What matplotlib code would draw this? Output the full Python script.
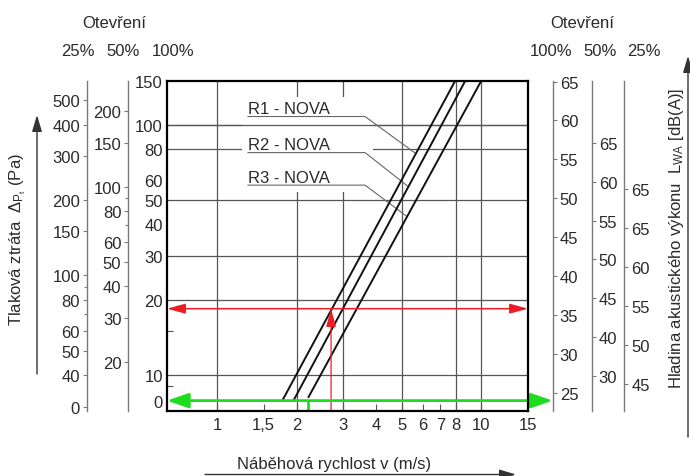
import numpy as np
import matplotlib
matplotlib.use('Agg')
import matplotlib.pyplot as plt
from matplotlib.patches import Rectangle, FancyArrowPatch

plt.rcParams['font.family'] = ['Liberation Sans', 'DejaVu Sans']
plt.rcParams['mathtext.fontset'] = 'custom'
plt.rcParams['mathtext.rm'] = 'Liberation Sans'
plt.rcParams['mathtext.it'] = 'Liberation Sans:italic'
plt.rcParams['mathtext.sf'] = 'Liberation Sans'

TXT = '#2a2a2a'
GRID = '#555555'
SCALE = '#7a7a7a'
RED = '#ee1c25'
GREEN = '#1edc1e'
FS = 12

# ---------------- data ----------------
velocity_ticks = [1, 1.5, 2, 3, 4, 5, 6, 7, 8, 10, 15]
velocity_labels = ['1', '1,5', '2', '3', '4', '5', '6', '7', '8', '10', '15']
velocity_grid = [1, 2, 3, 5, 8, 10]
velocity_range = [0.647, 15]

# pressure loss at 100 % opening (main scale)
pa100_ticks = [7.9, 10, 20, 30, 40, 50, 60, 80, 100, 150]
pa100_labels = ['0', '10', '20', '30', '40', '50', '60', '80', '100', '150']
pa100_grid = [10, 20, 30, 50, 80, 100]
pa100_minor = [9, 15]
pa100_range = [7.18, 150]

# pressure loss at 50 % opening
pa50_factor = 1.77
pa50_ticks = [20, 30, 40, 50, 60, 80, 100, 150, 200]
pa50_labels = ['20', '30', '40', '50', '60', '80', '100', '150', '200']
pa50_minor = [70, 90]

# pressure loss at 25 % opening
pa25_factor = 4.0
pa25_ticks = [29.8, 40, 50, 60, 80, 100, 150, 200, 300, 400, 500]
pa25_labels = ['0', '40', '50', '60', '80', '100', '150', '200', '300', '400', '500']
pa25_minor = [70, 90]

# sound power level scales: dB = 65 + slope*log10(p100 / ref)
db_slope = 32.15
db100_ref = 148.6
db50_ref = 84.7
db25_ref = 38.7
db100_ticks = [25, 30, 35, 40, 45, 50, 55, 60, 65]
db100_labels = ['25', '30', '35', '40', '45', '50', '55', '60', '65']
db50_ticks = [35, 40, 45, 50, 55, 60, 65]
db50_labels = ['30', '40', '45', '50', '55', '60', '65']
db25_ticks = [45, 50, 55, 60, 65, 70]
db25_labels = ['45', '50', '55', '60', '65', '65']

# characteristic lines (velocity m/s, pressure Pa at 100 %)
series_names = ['R1 - NOVA', 'R2 - NOVA', 'R3 - NOVA']
r1_v = [1.76, 7.97]
r1_p = [7.85, 150]
r2_v = [1.94, 8.7]
r2_p = [7.85, 150]
r3_v = [2.21, 10.0]
r3_p = [8.1, 150]
label_underline_p = [107.7, 77.3, 57.3]
label_v_range = [1.31, 3.63]
leader_target_p = [76.6, 56.5, 42.9]

# example reading
red_v = 2.70
red_p = 18.4
green_v = 2.21
green_p = 7.9

# ---------------- figure ----------------
W, H = 690, 477
fig = plt.figure(figsize=(W / 100, H / 100), dpi=100)

def fx(x):
    return x / W

def fy(y):
    return 1 - y / H

ax_left, ax_right, ax_top, ax_bottom = 167, 528, 81.5, 412
ax = fig.add_axes([fx(ax_left), fy(ax_bottom), (ax_right - ax_left) / W, (ax_bottom - ax_top) / H])
ax.set_xscale('log')
ax.set_yscale('log')
ax.set_xlim(velocity_range)
ax.set_ylim(pa100_range)

for s in ax.spines.values():
    s.set_linewidth(1.6)
    s.set_color('black')
    s.set_zorder(6)

ax.set_xticks(velocity_ticks, velocity_labels)
ax.set_xticks([], minor=True)
ax.set_yticks(pa100_ticks, pa100_labels)
ax.set_yticks(pa100_minor, minor=True)
ax.yaxis.set_minor_formatter(matplotlib.ticker.NullFormatter())
ax.tick_params(axis='x', which='major', direction='in', length=5, width=0.8,
               color=GRID, labelsize=FS, labelcolor=TXT, pad=4.5)
ax.tick_params(axis='y', which='major', length=0, labelsize=FS, labelcolor=TXT, pad=3)
ax.tick_params(axis='y', which='minor', direction='in', length=4, width=0.8, color=GRID)

# grid
for v in velocity_grid:
    ax.axvline(v, color=GRID, lw=0.9, zorder=1)
for p in pa100_grid:
    ax.axhline(p, color=GRID, lw=0.9, zorder=1)

# white label background (covers grid behind labels)
ax.add_patch(Rectangle((1.243, 54.0), 3.89 - 1.243, 129.4 - 54.0,
                       facecolor='white', edgecolor='none', zorder=1.5))
ax.axhline(100, color=GRID, lw=0.9, zorder=1.6)

# characteristic lines
series_v = [r1_v, r2_v, r3_v]
series_p = [r1_p, r2_p, r3_p]
for v, p in zip(series_v, series_p):
    ax.plot(v, p, color='#111111', lw=1.4, zorder=3, solid_capstyle='butt')

# labels with leaders
for name, v, p, pu, pt in zip(series_names, series_v, series_p,
                               label_underline_p, leader_target_p):
    lv = np.log10(v)
    lp = np.log10(p)
    vt = 10 ** np.interp(np.log10(pt), lp, lv)
    ax.plot([label_v_range[0], label_v_range[1], vt], [pu, pu, pt],
            color='#666666', lw=0.8, zorder=2.5)
    ax.annotate(name, (label_v_range[0], pu), xytext=(0, 2.5),
                textcoords='offset points', ha='left', va='baseline',
                fontsize=FS, color=TXT, zorder=4)

# red reading
yt = ax.get_yaxis_transform()
ax.annotate('', xy=(1, red_p), xycoords=yt, xytext=(0, red_p), textcoords=yt,
            arrowprops=dict(arrowstyle='<|-|>,head_length=1.1,head_width=0.3',
                            mutation_scale=10, color=RED, lw=1.1,
                            shrinkA=0, shrinkB=0), zorder=5)
ax.annotate('', xy=(red_v, red_p), xytext=(red_v, pa100_range[0]),
            arrowprops=dict(arrowstyle='-|>,head_length=1.1,head_width=0.3',
                            mutation_scale=10, color=RED, lw=0.9,
                            shrinkA=0, shrinkB=0), zorder=5)

# green reading
ax.annotate('', xy=(1.0684, green_p), xycoords=yt, xytext=(0, green_p), textcoords=yt,
            arrowprops=dict(arrowstyle='<|-|>,head_length=1.3,head_width=0.45',
                            mutation_scale=10, color=GREEN, lw=2.0,
                            shrinkA=0, shrinkB=0, clip_on=False),
            annotation_clip=False, zorder=5)
ax.plot([green_v, green_v], [green_p, pa100_range[0]], color=GREEN, lw=2.0,
        zorder=5, solid_capstyle='butt')


# ---------------- extra scales ----------------
def scale_axis(pos, side, scale, lims, ticks, labels, minor=()):
    a = fig.add_axes(ax.get_position())
    a.patch.set_visible(False)
    a.set_yscale(scale)
    a.set_ylim(lims)
    a.xaxis.set_visible(False)
    for k, s in a.spines.items():
        s.set_visible(k == side)
    sp = a.spines[side]
    sp.set_position(('axes', pos))
    sp.set_color(SCALE)
    sp.set_linewidth(1.0)
    if side == 'right':
        a.yaxis.tick_right()
    else:
        a.yaxis.tick_left()
    a.set_yticks(ticks, labels)
    a.set_yticks(list(minor), minor=True)
    a.yaxis.set_minor_formatter(matplotlib.ticker.NullFormatter())
    a.tick_params(axis='y', which='major', direction='out', length=3, width=0.8,
                  color=SCALE, labelsize=FS, labelcolor=TXT, pad=2)
    a.tick_params(axis='y', which='minor', direction='out', length=2.5, width=0.8,
                  color=SCALE)
    return a


def db(p, ref):
    return 65 + db_slope * np.log10(np.asarray(p) / ref)


lo, hi = pa100_range
scale_axis(-0.1072, 'left', 'log', (lo * pa50_factor, hi * pa50_factor),
           pa50_ticks, pa50_labels, pa50_minor)
scale_axis(-0.2216, 'left', 'log', (lo * pa25_factor, hi * pa25_factor),
           pa25_ticks, pa25_labels, pa25_minor)
scale_axis(1.0684, 'right', 'linear', (db(lo, db100_ref), db(hi, db100_ref)),
           db100_ticks, db100_labels)
scale_axis(1.1765, 'right', 'linear', (db(lo, db50_ref), db(hi, db50_ref)),
           db50_ticks, db50_labels)
scale_axis(1.2668, 'right', 'linear', (db(lo, db25_ref), db(hi, db25_ref)),
           db25_ticks, db25_labels)

# ---------------- header texts ----------------
fig.text(fx(114.5), fy(23.5), 'Otevření', ha='center', va='center', fontsize=FS, color=TXT)
fig.text(fx(582), fy(23.5), 'Otevření', ha='center', va='center', fontsize=FS, color=TXT)
for label, x in zip(['25%', '50%', '100%'], [77.5, 123, 173.5]):
    fig.text(fx(x), fy(51.5), label, ha='center', va='center', fontsize=FS, color=TXT)
for label, x in zip(['100%', '50%', '25%'], [551, 600, 644]):
    fig.text(fx(x), fy(51.5), label, ha='center', va='center', fontsize=FS, color=TXT)

# axis titles
fig.text(fx(18), fy(240), r'Tlaková ztráta  $\Delta_{\mathrm{P_t}}$ (Pa)', rotation=90,
         ha='center', va='center', fontsize=FS, color=TXT)
fig.text(fx(676), fy(238), r'Hladina akustického výkonu  L$_{\mathrm{WA}}$ [dB(A)]',
         rotation=90, ha='center', va='center', fontsize=FS, color=TXT)
fig.text(fx(334), fy(465), 'Náběhová rychlost v (m/s)', ha='center', va='center',
         fontsize=FS, color=TXT)


def fig_arrow(p0, p1):
    fig.add_artist(FancyArrowPatch((fx(p0[0]), fy(p0[1])), (fx(p1[0]), fy(p1[1])),
                                   transform=fig.transFigure,
                                   arrowstyle='-|>,head_length=1.0,head_width=0.3',
                                   mutation_scale=10, color='#333333', lw=1.0,
                                   shrinkA=0, shrinkB=0))


fig_arrow((37, 375), (37, 116))
fig_arrow((688, 438), (688, 57))
fig_arrow((205, 475.5), (516, 475.5))

fig.savefig('out.png', dpi=100)
